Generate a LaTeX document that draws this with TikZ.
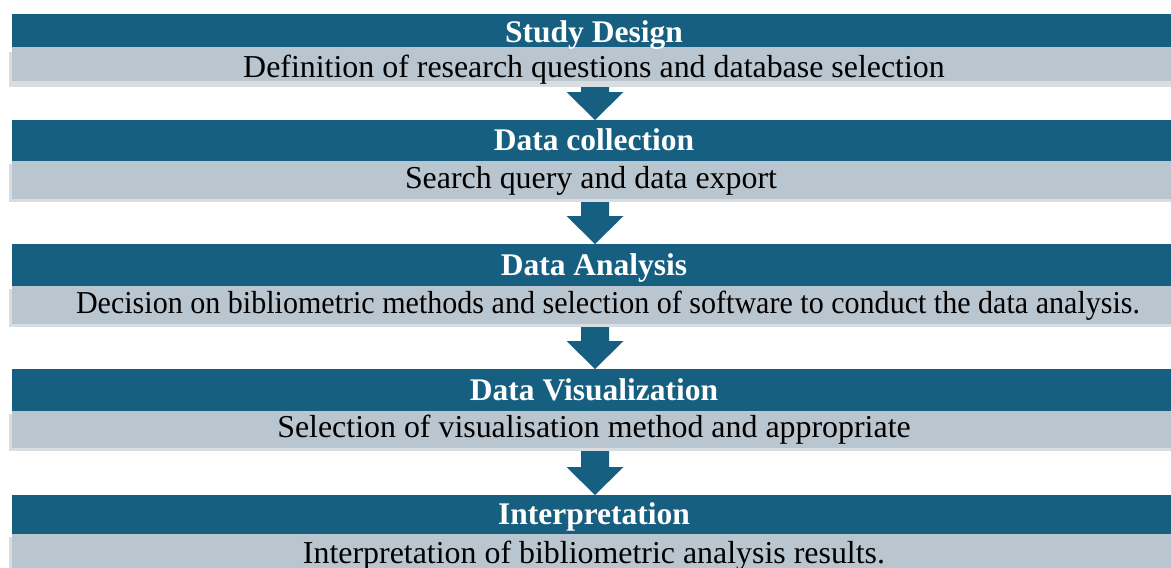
\documentclass[tikz,border=0pt]{standalone}
\usepackage{fontspec}
\setmainfont{Liberation Serif}
\usetikzlibrary{calc}
\definecolor{hblue}{RGB}{23,95,128}
\definecolor{bgrey}{RGB}{185,197,207}
\definecolor{sgrey}{RGB}{216,221,225}
\pgfdeclarelayer{bg}
\pgfsetlayers{bg,main}
\newcommand{\myblockarrow}[2]{%
  \fill[hblue] let \p1=(#1), \p2=(#2) in
    (\x1-14pt,\y1+6pt) -- (\x1+14pt,\y1+6pt) -- (\x1+14pt,\y2+28pt) -- (\x1+28.5pt,\y2+28pt)
    -- (\x2,\y2) -- (\x1-28.5pt,\y2+28pt) -- (\x1-14pt,\y2+28pt) -- cycle;}
\begin{document}
\begin{tikzpicture}[x=1pt,y=-1pt,
  hdr/.style={fill=hblue, draw=none, inner sep=0pt, anchor=north west, minimum width=1165pt},
  bar/.style={fill=bgrey, draw=none, inner sep=0pt, anchor=north west, minimum width=1165pt},
  shd/.style={fill=sgrey, draw=none, inner sep=0pt, anchor=north west, minimum width=1165pt},
  htext/.style={anchor=base, inner sep=0pt, text=white, font=\fontsize{31.5}{36}\selectfont\bfseries},
  btext/.style={anchor=base, inner sep=0pt, text=black, font=\fontsize{31.9}{36}\selectfont}]
\useasboundingbox (0,0) rectangle (1171,568);
\coordinate (ax) at (595,0);
% block 1
\node[shd, minimum height=35pt] (s1) at (9,52) {};
\node[bar, minimum height=34pt] (g1) at (12,47) {};
\node[hdr, minimum height=33pt] (h1) at (12,14) {};
\node[htext] (t1) at (594,42) {Study Design};
\node[btext] (b1) at (594,77) {Definition of research questions and database selection};
% block 2
\node[shd, minimum height=38pt] (s2) at (9,164) {};
\node[bar, minimum height=38pt] (g2) at (12,161) {};
\node[hdr, minimum height=41pt] (h2) at (12,120) {};
\node[htext] (t2) at (594,150) {Data collection};
\node[btext] (b2) at (591,188) {Search query and data export};
% block 3
\node[shd, minimum height=38pt] (s3) at (9,289) {};
\node[bar, minimum height=38pt] (g3) at (12,286) {};
\node[hdr, minimum height=42pt] (h3) at (12,244) {};
\node[htext] (t3) at (594,275) {Data Analysis};
\node[btext] (b3) at (608,313) {\scalebox{0.942}[1]{Decision on bibliometric methods and selection of software to conduct the data analysis.}};
% block 4
\node[shd, minimum height=37pt] (s4) at (9,414) {};
\node[bar, minimum height=37pt] (g4) at (12,411) {};
\node[hdr, minimum height=42pt] (h4) at (12,369) {};
\node[htext] (t4) at (594,400) {Data Visualization};
\node[btext] (b4) at (594,437) {Selection of visualisation method and appropriate};
% block 5
\node[shd, minimum height=40pt] (s5) at (9,537) {};
\node[bar, minimum height=40pt] (g5) at (12,534) {};
\node[hdr, minimum height=39pt] (h5) at (12,495) {};
\node[htext] (t5) at (594,524) {Interpretation};
\node[btext] (b5) at (594,563) {Interpretation of bibliometric analysis results.};
% arrows
\begin{pgfonlayer}{bg}
\fill[white] (0,0) rectangle (1171,568);
\myblockarrow{g1.south -| ax}{h2.north -| ax}
\myblockarrow{g2.south -| ax}{h3.north -| ax}
\myblockarrow{g3.south -| ax}{h4.north -| ax}
\myblockarrow{g4.south -| ax}{h5.north -| ax}
\end{pgfonlayer}
\end{tikzpicture}
\end{document}
